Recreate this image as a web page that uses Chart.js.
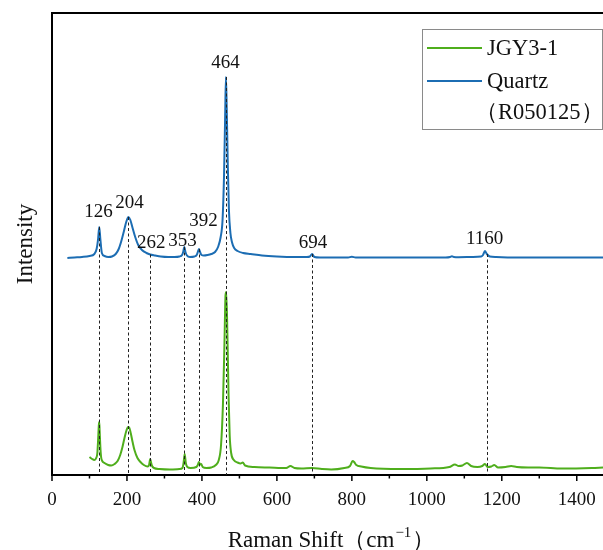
<!DOCTYPE html>
<html>
<head>
<meta charset="utf-8">
<script src="https://cdn.jsdelivr.net/npm/chart.js@4"></script>
<style>
  html, body { margin: 0; padding: 0; background: #fff; }
  #wrap { width: 603px; height: 550px; }
</style>
</head>
<body>
<div id="wrap"><canvas id="raman" width="603" height="550"></canvas></div>
<script>
// Quartz reference spectrum (R050125)
var quartzX = [41, 60, 80, 100, 113, 119, 123, 126, 129, 133, 140, 150, 160, 170, 178, 185, 192, 198, 204, 209, 215, 222, 230, 240, 252, 262, 275, 290, 310, 327, 340, 347, 350, 353, 356, 360, 368, 380, 386, 389, 392, 395, 399, 405, 415, 425, 435, 443, 450, 455, 459, 462, 464, 466, 469, 472, 476, 480, 486, 495, 510, 530, 560, 600, 650, 680, 688, 694, 700, 715, 760, 790, 800, 810, 850, 950, 1050, 1062, 1067, 1072, 1085, 1120, 1145, 1150, 1155, 1160, 1168, 1185, 1250, 1350, 1470];
var quartzY = [217, 217.5, 218, 219, 221, 226, 236, 248, 236, 222, 219, 218, 218.5, 221, 226, 234, 244, 253, 258, 255, 247, 238, 230, 225, 222, 220.5, 219.5, 218.5, 218, 218, 218.5, 220, 223, 228, 223, 219.5, 218, 218.5, 220, 223, 226, 223, 220, 219.5, 220, 221, 223, 228, 238, 255, 300, 360, 398, 370, 310, 265, 242, 233, 227, 224, 222, 221, 219.5, 218.5, 218, 218, 218.5, 221, 218, 217.5, 217.5, 217.5, 218.3, 217.5, 217.5, 217.5, 217.5, 218, 218.8, 218, 217.8, 218, 218.5, 220, 224, 221, 218.5, 218, 217.5, 217.5, 217.5];

// JGY3-1 sample spectrum
var jgyX = [100, 107, 113, 118, 121, 123, 125, 126, 127, 129, 131, 134, 140, 150, 158, 167, 175, 182, 188, 194, 199, 203, 206, 210, 215, 220, 228, 236, 245, 255, 259, 262, 264, 267, 272, 287, 314, 340, 348, 351, 354, 357, 361, 370, 385, 389, 392, 394, 396, 398, 402, 412, 425, 437, 445, 451, 456, 460, 463, 465, 468, 471, 474, 478, 485, 495, 503, 509, 515, 540, 580, 625, 636, 647, 665, 694, 720, 745, 780, 795, 802, 806, 812, 825, 850, 930, 1010, 1060, 1075, 1085, 1095, 1107, 1118, 1135, 1148, 1155, 1162, 1172, 1180, 1190, 1210, 1225, 1240, 1270, 1300, 1360, 1440, 1470];
var jgyY = [18, 16, 15, 17, 22, 35, 50, 53, 45, 28, 18, 14, 12, 10, 9.5, 11, 14, 20, 28, 38, 45, 48, 47.5, 42, 33, 25, 17, 13, 10, 8.5, 10, 16, 13, 9, 7, 6, 5.5, 6, 7, 12, 21, 12, 8, 7, 8, 10, 13, 11, 10.5, 11, 8, 7, 7.5, 10, 15, 30, 70, 130, 180, 183, 140, 80, 40, 22, 15, 12.5, 11.5, 12.5, 9.5, 8, 7.5, 7, 9, 7, 6.5, 7, 6, 5.5, 7, 9, 14, 13, 10, 8.5, 7, 6, 6.5, 8, 10.5, 9, 9.5, 12, 9, 8, 9, 11, 8, 8.5, 10, 7.5, 8, 9, 8, 7.5, 7.5, 6.5, 7, 7.5];

// marked peaks and where their labels sit
var peaks = [126, 204, 262, 353, 392, 464, 694, 1160];
var peakLabelX = [124, 207, 265, 348, 404, 463, 696, 1154];
var peakLabelY = [263, 272, 232, 234, 254, 412, 232, 236];

var xTicks = [0, 200, 400, 600, 800, 1000, 1200, 1400];

var serif = "'Liberation Serif', 'Times New Roman', serif";

function toPoints(xs, ys) {
  var pts = [];
  for (var i = 0; i < xs.length; i++) pts.push({ x: xs[i], y: ys[i] });
  return pts;
}

function quartzAt(x) {
  for (var i = 1; i < quartzX.length; i++) {
    if (quartzX[i] >= x) {
      var t = (x - quartzX[i - 1]) / (quartzX[i] - quartzX[i - 1]);
      return quartzY[i - 1] + t * (quartzY[i] - quartzY[i - 1]);
    }
  }
  return quartzY[quartzY.length - 1];
}

// dashed drop lines, peak numbers, ticks, top frame, x title and legend box
var extras = {
  id: 'extras',
  afterDatasetsDraw: function (chart) {
    var ctx = chart.ctx;
    var xs = chart.scales.x, ys = chart.scales.y;
    var area = chart.chartArea;

    ctx.save();
    ctx.strokeStyle = '#222';
    ctx.lineWidth = 1;
    ctx.setLineDash([3, 2.5]);
    peaks.forEach(function (p) {
      var px = Math.round(xs.getPixelForValue(p)) + 0.5;
      ctx.beginPath();
      ctx.moveTo(px, ys.getPixelForValue(quartzAt(p)));
      ctx.lineTo(px, area.bottom);
      ctx.stroke();
    });
    ctx.setLineDash([]);

    ctx.fillStyle = '#111';
    ctx.font = '19px ' + serif;
    ctx.textAlign = 'center';
    ctx.textBaseline = 'middle';
    peaks.forEach(function (p, i) {
      ctx.fillText(String(p), xs.getPixelForValue(peakLabelX[i]), ys.getPixelForValue(peakLabelY[i]));
    });

    // top frame line
    ctx.strokeStyle = '#000';
    ctx.lineWidth = 2;
    ctx.beginPath();
    ctx.moveTo(area.left, area.top);
    ctx.lineTo(chart.width, area.top);
    ctx.stroke();

    // x ticks: long every 200, short in between
    ctx.lineWidth = 1.5;
    for (var v = 0; v <= xs.max; v += 100) {
      var tx = xs.getPixelForValue(v);
      var len = (v % 200 === 0) ? 6 : 3.5;
      ctx.beginPath();
      ctx.moveTo(tx, area.bottom);
      ctx.lineTo(tx, area.bottom + len);
      ctx.stroke();
    }

    // x axis title with a real superscript
    var t1 = 'Raman Shift（cm', sup = '−1', t2 = '）';
    ctx.fillStyle = '#111';
    ctx.textAlign = 'left';
    ctx.textBaseline = 'alphabetic';
    ctx.font = '23px ' + serif;
    var w1 = ctx.measureText(t1).width, w2 = ctx.measureText(t2).width;
    ctx.font = '15px ' + serif;
    var ws = ctx.measureText(sup).width;
    var x0 = (area.left + area.right) / 2 + 4 - (w1 + ws + 2 + w2) / 2;
    var base = 547;
    ctx.font = '23px ' + serif;
    ctx.fillText(t1, x0, base);
    ctx.font = '15px ' + serif;
    ctx.fillText(sup, x0 + w1 + 1, base - 10);
    ctx.font = '23px ' + serif;
    ctx.fillText(t2, x0 + w1 + ws + 2, base);

    // legend
    var bx = 422.5, by = 29.5, bw = 180, bh = 100;
    ctx.strokeStyle = '#8a8a8a';
    ctx.lineWidth = 1;
    ctx.strokeRect(bx, by, bw, bh);
    var rows = [48, 81];
    chart.data.datasets.forEach(function (ds, i) {
      ctx.strokeStyle = ds.borderColor;
      ctx.lineWidth = 2;
      ctx.beginPath();
      ctx.moveTo(427, rows[i]);
      ctx.lineTo(482, rows[i]);
      ctx.stroke();
      ctx.fillStyle = '#111';
      ctx.font = '22.5px ' + serif;
      ctx.textAlign = 'left';
      ctx.textBaseline = 'middle';
      var parts = ds.label.split('\n');
      ctx.fillText(parts[0], 487, rows[i] + 1);
      if (parts[1]) ctx.fillText(parts[1], 475, rows[i] + 32);
    });
    ctx.restore();
  }
};

new Chart(document.getElementById('raman'), {
  type: 'line',
  data: {
    datasets: [
      {
        label: 'JGY3-1',
        data: toPoints(jgyX, jgyY),
        borderColor: '#4fae1c',
        borderWidth: 2,
        pointRadius: 0,
        cubicInterpolationMode: 'monotone'
      },
      {
        label: 'Quartz\n（R050125）',
        data: toPoints(quartzX, quartzY),
        borderColor: '#1c6db3',
        borderWidth: 2,
        pointRadius: 0,
        cubicInterpolationMode: 'monotone'
      }
    ]
  },
  options: {
    responsive: false,
    animation: false,
    layout: { padding: { top: 13, right: 0, left: 0, bottom: 0 } },
    plugins: {
      legend: { display: false },
      tooltip: { enabled: false }
    },
    scales: {
      x: {
        type: 'linear',
        min: 0,
        max: 1470,
        afterFit: function (s) { s.height = 75; s.paddingRight = 0; },
        afterBuildTicks: function (s) {
          s.ticks = xTicks.map(function (v) { return { value: v }; });
        },
        grid: { display: false },
        border: { display: true, color: '#000', width: 2 },
        ticks: {
          color: '#111',
          font: { family: serif, size: 19 },
          padding: 6,
          maxRotation: 0,
          autoSkip: false,
          callback: function (v) { return String(v); }
        },
        title: { display: false }
      },
      y: {
        min: 0,
        max: 462,
        afterFit: function (s) { s.width = 52; },
        grid: { display: false },
        border: { display: true, color: '#000', width: 2 },
        ticks: { display: false },
        title: {
          display: true,
          text: 'Intensity',
          color: '#111',
          font: { family: serif, size: 23 },
          padding: { top: 12, bottom: 0 }
        }
      }
    }
  },
  plugins: [extras]
});
</script>
</body>
</html>
